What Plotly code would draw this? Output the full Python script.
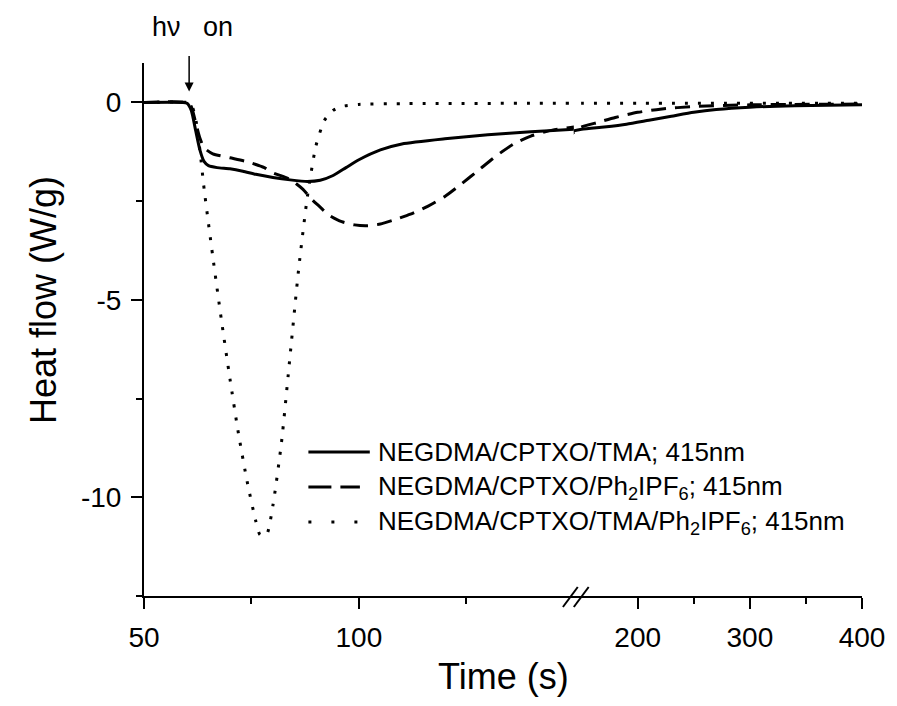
import plotly.graph_objects as go

# ---- data ----
t_tma = [50, 59, 60, 61, 62, 63, 64, 65, 67, 70, 73, 76, 80, 84, 88, 91, 94, 97, 100, 105, 110, 120, 130, 140, 150,
         170, 190, 210, 230, 250, 270, 300, 340, 400]
hf_tma = [0, 0, -0.02, -0.2, -0.7, -1.2, -1.5, -1.6, -1.65, -1.68, -1.74, -1.82, -1.9, -1.96, -2.0, -1.97, -1.85, -1.65, -1.45, -1.2, -1.05, -0.92, -0.82, -0.74, -0.68,
          -0.62, -0.55, -0.45, -0.35, -0.25, -0.18, -0.12, -0.08, -0.06]

t_ph = [50, 60, 61, 62, 63, 64, 66, 70, 74, 78, 80, 84, 87, 89, 91, 93, 96, 99, 102, 105, 108, 112, 116, 120, 124, 128, 132, 136, 140, 145, 150,
        165, 180, 200, 220, 250, 300, 400]
hf_ph = [0, 0, -0.1, -0.5, -0.9, -1.15, -1.3, -1.4, -1.5, -1.65, -1.78, -1.95, -2.2, -2.45, -2.65, -2.85, -3.02, -3.1, -3.12, -3.08, -2.98, -2.83, -2.63, -2.38, -2.05, -1.7, -1.35, -1.05, -0.85, -0.7, -0.62,
         -0.5, -0.38, -0.25, -0.17, -0.1, -0.06, -0.04]

t_all = [50, 60, 61, 62, 63, 64, 66, 68, 70, 72, 74, 76, 77, 78.5, 80, 82, 84, 86, 88, 90, 92, 94, 96, 100, 110, 150,
         200, 400]
hf_all = [0, 0, -0.05, -0.4, -1.2, -2.2, -3.9, -5.5, -7.0, -8.4, -9.6, -10.6, -10.95, -10.95, -10.2, -8.6, -6.4, -4.2, -2.4, -1.1, -0.45, -0.2, -0.1, -0.05, -0.03, -0.02,
          -0.02, -0.02]

names = ["NEGDMA/CPTXO/TMA; 415nm",
         "NEGDMA/CPTXO/Ph<sub>2</sub>IPF<sub>6</sub>; 415nm",
         "NEGDMA/CPTXO/TMA/Ph<sub>2</sub>IPF<sub>6</sub>; 415nm"]
dashes = ["solid", "15px,9px", "3px,10px"]
legend_dashes = ["solid", "23px,9px", "3px,20px"]

left_range = [50, 150]
right_range = [143, 400]
left_ticks = [50, 100]
right_ticks = [200, 300, 400]
y_ticks = [0, -5, -10]

W, H = 897, 706
ML, MR, MT, MB = 144, 28, 63, 110
PW, PH = W - ML - MR, H - MT - MB
split = 0.5986


def px(x):
    return (x - ML) / PW


def py(y):
    return (H - MB - y) / PH


fig = go.Figure()
series = [(t_tma, hf_tma), (t_ph, hf_ph), (t_all, hf_all)]
for i, (t, v) in enumerate(series):
    for xa in ("x", "x2"):
        fig.add_trace(go.Scatter(x=t, y=v, mode="lines", name=names[i], xaxis=xa, yaxis="y",
                                 line=dict(color="black", width=3, dash=dashes[i], shape="spline", smoothing=0.6),
                                 showlegend=False, hoverinfo="skip"))

font = "Liberation Sans, Arial, sans-serif"
axis_common = dict(showline=True, linecolor="black", linewidth=2, ticks="outside", ticklen=11, tickwidth=2,
                   tickcolor="black", showgrid=False, zeroline=False, ticklabelstandoff=4,
                   tickfont=dict(family=font, size=28, color="black"))
minor_common = dict(ticklen=6, tickwidth=2, ticks="outside", tickcolor="black")

fig.update_layout(
    width=W, height=H, margin=dict(l=ML, r=MR, t=MT, b=MB),
    paper_bgcolor="white", plot_bgcolor="white",
    xaxis=dict(domain=[0, split], range=left_range, tickvals=left_ticks, anchor="y",
               minor=dict(tickvals=[75, 125], **minor_common), **axis_common),
    xaxis2=dict(domain=[split, 1], range=right_range, tickvals=right_ticks, anchor="y",
                minor=dict(tickvals=[250, 350], **minor_common), **axis_common),
    yaxis=dict(range=[-12.5, 1], tickvals=y_ticks, ticktext=["0", "-5", "-10"], anchor="x",
               minor=dict(tickvals=[-2.5, -7.5, -12.5], **minor_common), **axis_common),
    showlegend=False,
)

# axis titles
fig.add_annotation(text="Time (s)", xref="paper", yref="paper", x=px(507), y=py(676),
                   showarrow=False, font=dict(family=font, size=36, color="black"), xanchor="center", yanchor="middle")
fig.add_annotation(text="Heat flow (W/g)", xref="paper", yref="paper", x=px(42), y=py(300), textangle=-90,
                   showarrow=False, font=dict(family=font, size=36, color="black"), xanchor="center", yanchor="middle")

# legend (line samples + labels)
leg_y = [452, 487, 522]
leg_x1 = [372, 362, 360]
for i in range(3):
    fig.add_shape(type="line", xref="paper", yref="paper", x0=px(310), x1=px(leg_x1[i]), y0=py(leg_y[i]), y1=py(leg_y[i]),
                  line=dict(color="black", width=3, dash=legend_dashes[i]))
    fig.add_annotation(text=names[i], xref="paper", yref="paper", x=px(378), y=py(leg_y[i]),
                       showarrow=False, font=dict(family=font, size=26, color="black"),
                       xanchor="left", yanchor="middle")

# light-on arrow and label
fig.add_annotation(x=60.5, y=0.28, xref="x", yref="y", text="", showarrow=True, ax=0, ay=-37,
                   arrowhead=2, arrowsize=1.2, arrowwidth=1.5, arrowcolor="black", standoff=0)
fig.add_annotation(text="h\u03bd\u00a0\u00a0\u00a0on", xref="paper", yref="paper", x=px(150), y=py(27),
                   showarrow=False, font=dict(family=font, size=27, color="black"), xanchor="left", yanchor="middle")

# axis break marks
for x0 in (567, 578):
    fig.add_shape(type="line", xref="paper", yref="paper", x0=px(x0), y0=py(607), x1=px(x0 + 15), y1=py(587),
                  line=dict(color="black", width=2))

fig.write_html("out.html", config={"displayModeBar": False, "staticPlot": True},
               post_script="document.body.style.margin='0';")
